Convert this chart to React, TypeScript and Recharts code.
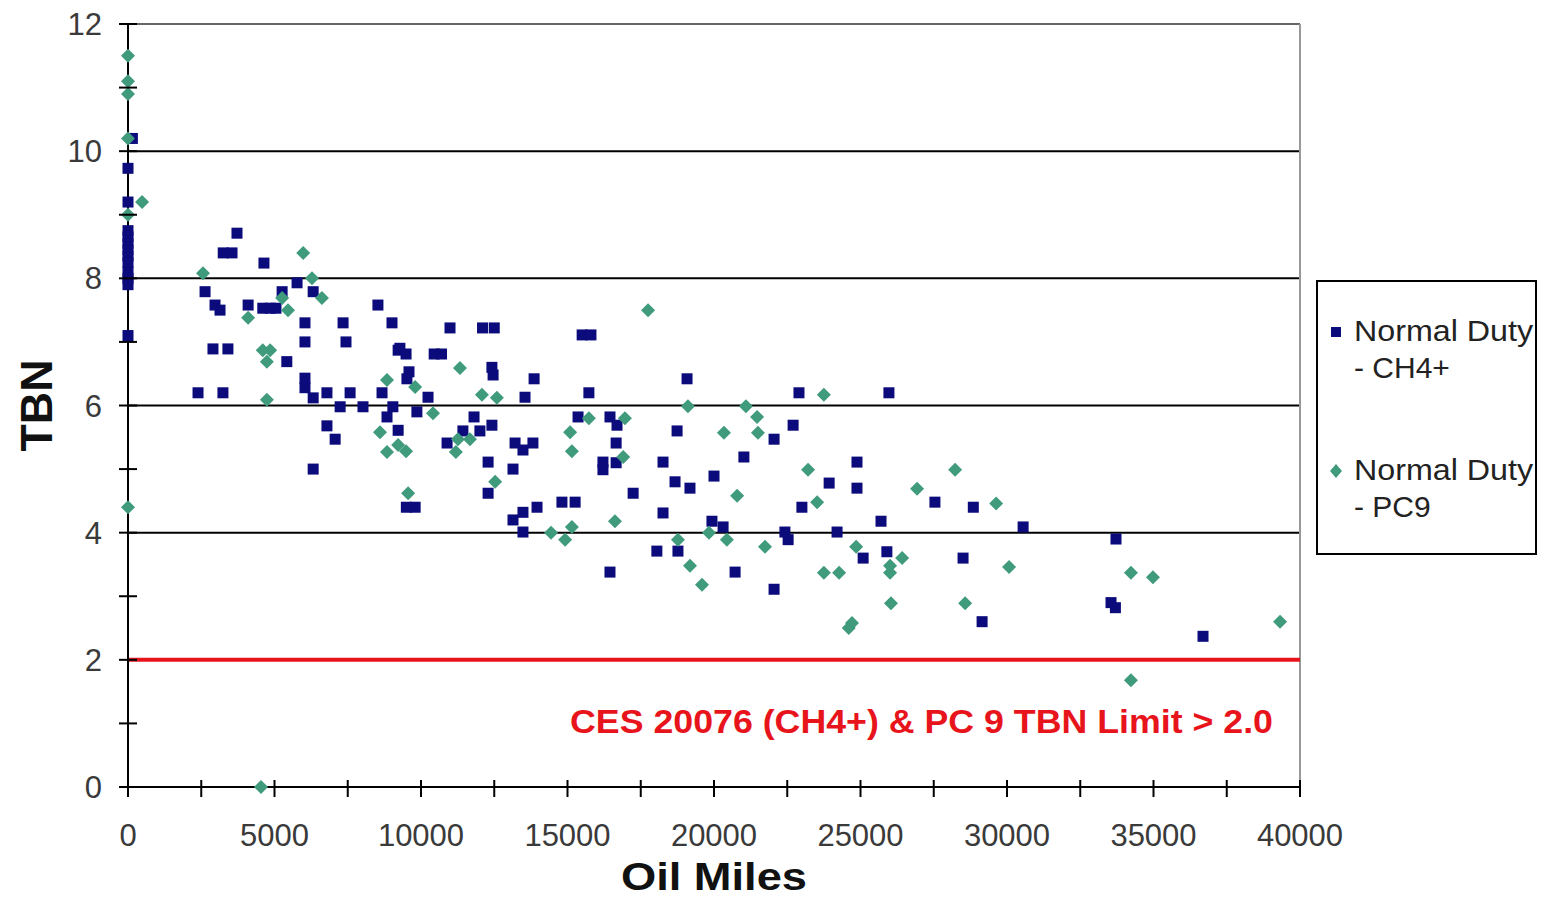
import React from 'react';
import { ScatterChart, Scatter, XAxis, YAxis, ReferenceLine, Legend, Label } from 'recharts';

// Normal Duty - CH4+ (blue squares)
const ch4Miles = [
  0, 0, 0, 0, 0, 0, 0, 0, 0, 0, 0, 0, 150,
  3720, 3250, 3550, 4640, 5770, 2630, 5260, 6320, 2970, 3140, 4100, 4600, 4850, 5050,
  6040, 7340, 8530, 9010, 6040, 7440, 2900, 3410, 5420, 9220, 6040, 6040, 6320,
  2390, 3240, 6790, 7580, 8670, 7240, 8020, 9040, 8840, 9220, 6790, 7070, 6320,
  10990, 12100, 12500, 15500, 15800, 9280, 9490, 10450, 10700, 12420, 12460, 9590, 9520,
  10240, 13550, 13860, 15730, 9860, 11810, 15360, 16450, 16690, 11430, 12010, 12420,
  10890, 13210, 13820, 13480, 16660, 16210, 16210, 16660, 18740, 18260, 12290, 13140,
  18670, 12290, 17240, 9500, 9800, 13960, 13480, 14810, 15260, 18260, 13140, 13480,
  16450, 18050, 18770,
  19080, 22900, 25970, 22700, 22050, 21020, 24880, 19180, 20000, 23930, 24880, 23000,
  27540, 19930, 20310, 25700, 22420, 22530, 24200, 25090, 25900, 20720, 22050,
  28850, 30550, 33720, 28500, 29150, 33550, 33700, 36690,
];
const ch4Tbn = [
  9.73, 9.2, 8.75, 8.65, 8.55, 8.45, 8.35, 8.25, 8.1, 8.0, 7.9, 7.1, 10.2,
  8.71, 8.4, 8.4, 8.24, 7.93, 7.79, 7.79, 7.79, 7.58, 7.5, 7.58, 7.53, 7.53, 7.53,
  7.3, 7.3, 7.58, 7.3, 7.0, 7.0, 6.89, 6.89, 6.69, 6.87, 6.43, 6.28, 6.12,
  6.2, 6.2, 6.2, 6.2, 6.2, 5.98, 5.98, 5.98, 5.82, 5.61, 5.68, 5.47, 5.0,
  7.22, 7.22, 7.22, 7.11, 7.11, 6.9, 6.81, 6.81, 6.81, 6.6, 6.48, 6.53, 6.42,
  6.13, 6.13, 6.42, 6.2, 5.9, 5.82, 5.82, 5.82, 5.69, 5.6, 5.6, 5.69,
  5.41, 5.41, 5.41, 5.3, 5.41, 5.11, 4.99, 5.1, 5.6, 5.11, 5.11, 5.0,
  4.8, 4.62, 4.62, 4.4, 4.4, 4.4, 4.32, 4.48, 4.48, 4.31, 4.2, 4.01,
  3.38, 3.71, 3.71,
  6.42, 6.2, 6.2, 5.69, 5.47, 5.19, 5.11, 4.7, 4.89, 4.78, 4.7, 4.4,
  4.48, 4.18, 4.09, 4.18, 4.01, 3.89, 4.01, 3.6, 3.7, 3.38, 3.11,
  4.4, 4.09, 3.9, 3.6, 2.6, 2.9, 2.82, 2.37,
];

// Normal Duty - PC9 (green diamonds)
const pc9Miles = [
  0, 0, 0, 0, 480, 0, 0, 4540,
  2560, 5980, 6280, 5260, 6620, 5460, 4100, 4600, 4850, 4740, 8840, 4740, 8600, 8840, 9220,
  17750, 11330, 9800, 12080, 12590, 10410, 15730, 16960, 11260, 11670, 9490, 11190,
  15090, 15150, 16900, 12530, 9560, 16620, 14440, 15150, 14920, 18770,
  23750, 19110, 21090, 21470, 21500, 20340, 23210, 28230, 20790, 23520, 26930, 19830,
  20440, 21740, 24850, 26420, 26010, 26010, 19180, 23750, 24270, 19590, 26040, 24710, 24600,
  29630, 30070, 34230, 34980, 28570, 39320, 34230,
];
const pc9Tbn = [
  11.5, 11.1, 10.9, 10.2, 9.2, 9.0, 4.4, 0,
  8.08, 8.4, 8.0, 7.69, 7.69, 7.5, 7.38, 6.87, 6.87, 6.69, 6.4, 6.09, 5.58, 5.27, 5.38,
  7.5, 6.59, 6.29, 6.17, 6.12, 5.88, 5.8, 5.8, 5.47, 5.47, 5.28, 5.27,
  5.58, 5.28, 5.19, 4.8, 4.62, 4.18, 4.0, 4.09, 3.89, 3.89,
  6.17, 5.99, 5.99, 5.82, 5.57, 5.57, 4.99, 4.99, 4.58, 4.48, 4.69, 4.0,
  3.89, 3.78, 3.78, 3.6, 3.48, 3.37, 3.48, 3.37, 3.37, 3.18, 2.89, 2.58, 2.5,
  4.46, 3.46, 3.37, 3.3, 2.89, 2.6, 1.68,
];

const xTicks = [0, 2500, 5000, 7500, 10000, 12500, 15000, 17500, 20000, 22500, 25000, 27500, 30000, 32500, 35000, 37500, 40000];
const yTicks = [0, 1, 2, 3, 4, 5, 6, 7, 8, 9, 10, 11, 12];
const gridLevels = [4, 6, 8, 10];
const limitTbn = 2;
const limitText = 'CES 20076 (CH4+) & PC 9 TBN Limit > 2.0';

const BLUE = '#0b0b7c';
const GREEN = '#3f9b7c';
const RED = '#e8141c';
const FONT = '"Liberation Sans", Arial, sans-serif';

const ch4Data = ch4Miles.map((m, i) => ({ x: m, y: ch4Tbn[i] }));
const pc9Data = pc9Miles.map((m, i) => ({ x: m, y: pc9Tbn[i] }));

const Square = (p: any) => <rect x={p.cx - 5.5} y={p.cy - 5.5} width={11} height={11} fill={BLUE} />;
const Diamond = (p: any) => (
  <polygon points={`${p.cx},${p.cy - 7} ${p.cx + 7},${p.cy} ${p.cx},${p.cy + 7} ${p.cx - 7},${p.cy}`} fill={GREEN} />
);

const XTick = (props: any) => {
  const { x, y, payload } = props;
  const v = payload.value;
  return (
    <g>
      <line x1={x} x2={x} y1={y - 7} y2={y + 10} stroke="#000" strokeWidth={2} />
      {v % 5000 === 0 && (
        <text x={x} y={y + 59} textAnchor="middle" fontSize={31} fontFamily={FONT} fill="#3a3a3a">{v}</text>
      )}
    </g>
  );
};

const YTick = (props: any) => {
  const { x, y, payload } = props;
  const v = payload.value;
  return (
    <g>
      <line x1={x - 9} x2={x + 9} y1={y} y2={y} stroke="#000" strokeWidth={2} />
      {v % 2 === 0 && (
        <text x={x - 26} y={y + 11} textAnchor="end" fontSize={31} fontFamily={FONT} fill="#3a3a3a">{v}</text>
      )}
    </g>
  );
};

const renderLegend = (props: any) => {
  const items = props.payload || [];
  return (
    <svg width={221} height={275} style={{ display: 'block' }}>
      <rect x={1} y={1} width={219} height={273} fill="#fff" stroke="#000" strokeWidth={2} />
      {items.map((it: any, i: number) => {
        const [l1, l2] = String(it.value).split(' - ');
        const top = i * 139;
        return (
          <g key={i}>
            {i === 0 ? (
              <rect x={15} y={top + 47} width={10} height={10} fill={BLUE} />
            ) : (
              <polygon points={`20,${top + 45} 26,${top + 52} 20,${top + 59} 14,${top + 52}`} fill={GREEN} />
            )}
            <text x={38} y={top + 61} fontSize={30} fontFamily={FONT} fill="#222" textLength={179} lengthAdjust="spacingAndGlyphs">{l1}</text>
            <text x={38} y={top + 98} fontSize={30} fontFamily={FONT} fill="#222">- {l2}</text>
          </g>
        );
      })}
    </svg>
  );
};

export default function App() {
  return (
    <div style={{ position: 'absolute', left: 0, top: 0, width: 1545, height: 900, background: '#fff' }}>
      <ScatterChart width={1545} height={900} margin={{ top: 24, right: 245, bottom: 0, left: 0 }}>
        <XAxis
          type="number" dataKey="x" domain={[0, 40000]} ticks={xTicks} interval={0}
          height={113} tickSize={0} tickMargin={0} tick={<XTick />}
          axisLine={{ stroke: '#000', strokeWidth: 2 }} tickLine={false}
        >
          <Label content={(p: any) => (
            <text x={p.viewBox.x + p.viewBox.width / 2} y={p.viewBox.y + 103} textAnchor="middle"
              fontSize={38} fontWeight="bold" fontFamily={FONT} fill="#111" textLength={186} lengthAdjust="spacingAndGlyphs">Oil Miles</text>
          )} />
        </XAxis>
        <YAxis
          type="number" dataKey="y" domain={[0, 12]} ticks={yTicks} interval={0}
          width={128} tickSize={0} tickMargin={0} tick={<YTick />}
          axisLine={{ stroke: '#000', strokeWidth: 2 }} tickLine={false}
        >
          <Label content={(p: any) => {
            const cy = p.viewBox.y + p.viewBox.height / 2;
            return (
              <text x={52} y={cy} transform={`rotate(-90, 52, ${cy})`} textAnchor="middle"
                fontSize={45} fontWeight="bold" fontFamily={FONT} fill="#111" textLength={92} lengthAdjust="spacingAndGlyphs">TBN</text>
            );
          }} />
        </YAxis>
        {gridLevels.map((g) => (
          <ReferenceLine key={g} y={g} stroke="#000" strokeWidth={2} />
        ))}
        <ReferenceLine y={12} stroke="#666" strokeWidth={2} />
        <ReferenceLine x={40000} stroke="#999" strokeWidth={2} />
        <ReferenceLine y={limitTbn} stroke={RED} strokeWidth={4}>
          <Label content={(p: any) => (
            <text x={p.viewBox.x + p.viewBox.width - 27} y={p.viewBox.y + 73} textAnchor="end"
              fontSize={34} fontWeight="bold" fontFamily={FONT} fill={RED} textLength={703} lengthAdjust="spacingAndGlyphs">{limitText}</text>
          )} />
        </ReferenceLine>
        <Scatter name="Normal Duty - CH4+" data={ch4Data} fill={BLUE} shape={Square} isAnimationActive={false} />
        <Scatter name="Normal Duty - PC9" data={pc9Data} fill={GREEN} shape={Diamond} isAnimationActive={false} />
        <Legend
          layout="vertical" align="center" verticalAlign="middle" content={renderLegend}
          wrapperStyle={{ left: 1316, top: 280, width: 221, height: 275, bottom: 'auto', right: 'auto' }}
        />
      </ScatterChart>
    </div>
  );
}
